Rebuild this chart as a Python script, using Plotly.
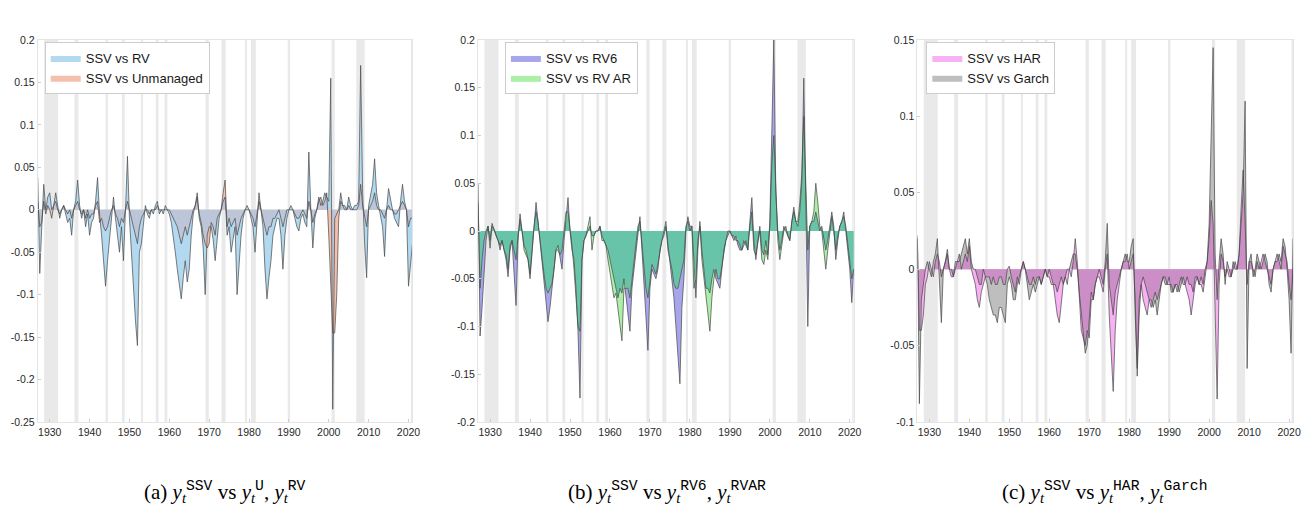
import numpy as np
import plotly.graph_objects as go

# ---------------- data (semi-annual grid, 1927.0 .. 2021.0) ----------------
YEARS = 1927 + 0.5 * np.arange(189)

A_RV = [0.038, -0.075, -0.02, 0.03, 0.0, 0.015, 0.02, 0.0, 0.005, 0.02, 0.005, -0.01, 0.0, 0.005, -0.005, -0.015, -0.01, -0.03, 0.0, 0.01,
        0.035, 0.005, -0.01, 0.0, -0.02, -0.005, -0.03, -0.015, -0.01, 0.01, 0.038, -0.005, -0.03, -0.06, -0.09, -0.06, -0.035, -0.005, 0.015, -0.01,
        -0.03, -0.05, -0.02, -0.06, 0.0, 0.063, -0.01, -0.05, -0.1, -0.13, -0.16, -0.05, -0.04, -0.02, 0.005, -0.005, -0.01, 0.0, -0.005, 0.005,
        0.01, -0.005, 0.0, -0.005, 0.005, 0.0, -0.005, -0.015, -0.03, -0.05, -0.07, -0.09, -0.105, -0.08, -0.06, -0.085, -0.07, -0.03, -0.005, 0.005,
        0.02, -0.01, -0.02, -0.045, -0.1, -0.03, -0.02, -0.02, -0.035, -0.06, -0.03, -0.01, 0.0, 0.01, 0.015, -0.03, -0.02, -0.05, -0.035, -0.02,
        -0.1, -0.06, -0.03, -0.01, 0.0, 0.005, 0.0, -0.01, -0.02, -0.05, -0.01, 0.02, 0.0, -0.02, -0.07, -0.105, -0.08, -0.06, -0.03, -0.02,
        -0.01, -0.01, -0.03, -0.07, -0.03, -0.01, 0.0, 0.005, 0.0, -0.01, -0.02, -0.025, -0.01, -0.005, -0.015, -0.02, 0.068, 0.0, -0.045, -0.01,
        0.0, 0.015, 0.005, 0.01, 0.02, 0.015, 0.01, 0.155, -0.235, -0.01, -0.005, 0.0, 0.02, 0.005, 0.005, 0.0, 0.015, 0.005, 0.0, 0.005,
        0.005, 0.01, 0.17, 0.02, -0.04, -0.08, 0.005, 0.02, 0.03, 0.06, 0.02, 0.005, -0.01, -0.02, -0.055, 0.0, 0.025, 0.01, 0.0, -0.01,
        -0.015, -0.02, 0.01, 0.03, 0.01, 0.0, -0.09, -0.06, -0.04]

A_U = [0.01, -0.02, -0.015, 0.01, -0.005, 0.005, 0.0, -0.01, 0.005, 0.01, 0.0, -0.005, 0.0, 0.005, 0.0, -0.005, 0.0, -0.01, 0.0, 0.005,
       0.01, 0.0, -0.005, 0.0, -0.01, 0.0, -0.01, -0.005, -0.005, 0.005, 0.01, -0.015, -0.01, -0.02, -0.025, -0.02, -0.01, 0.0, 0.005, -0.005,
       -0.01, -0.02, -0.01, -0.015, 0.0, 0.01, 0.0, -0.01, -0.02, -0.03, -0.04, -0.02, -0.01, -0.005, 0.0, 0.0, -0.005, 0.0, 0.0, 0.0,
       0.005, 0.0, 0.0, 0.0, 0.0, 0.0, 0.0, -0.005, -0.01, -0.015, -0.02, -0.03, -0.04, -0.03, -0.02, -0.03, -0.02, -0.01, 0.0, 0.005,
       0.015, -0.005, -0.015, -0.03, -0.04, -0.045, -0.04, -0.015, -0.02, -0.03, -0.01, -0.005, 0.0, 0.02, 0.035, -0.02, -0.01, -0.02, -0.015, -0.01,
       -0.03, -0.02, -0.01, -0.005, 0.0, 0.0, 0.0, -0.005, -0.01, -0.02, -0.005, 0.01, 0.0, -0.01, -0.02, -0.03, -0.02, -0.02, -0.01, -0.01,
       -0.005, 0.0, -0.01, -0.02, -0.01, 0.0, 0.0, 0.0, 0.0, -0.005, -0.01, -0.01, -0.005, 0.0, -0.005, -0.01, 0.01, 0.0, -0.015, -0.005,
       0.0, 0.01, 0.015, 0.005, 0.01, 0.02, -0.03, -0.1, -0.145, -0.145, -0.1, -0.01, 0.01, 0.005, 0.0, 0.0, 0.005, 0.0, 0.0, 0.0,
       0.0, 0.005, 0.03, 0.005, -0.01, -0.02, 0.0, 0.005, 0.01, 0.02, 0.005, 0.0, 0.0, -0.005, -0.01, 0.0, 0.005, 0.0, 0.0, -0.005,
       -0.005, 0.0, 0.005, 0.01, 0.005, 0.0, -0.02, -0.01, -0.01]

B_RV6 = [0.05, -0.11, -0.08, -0.04, -0.01, 0.005, -0.01, 0.008, 0.0, -0.005, -0.01, -0.02, -0.01, -0.02, -0.03, -0.048, -0.02, -0.01, -0.04, -0.078,
         -0.01, 0.018, 0.0, -0.015, -0.02, -0.03, -0.05, -0.02, 0.0, 0.03, 0.01, -0.01, -0.03, -0.05, -0.07, -0.095, -0.08, -0.06, -0.04, -0.02,
         -0.015, -0.03, -0.04, -0.01, 0.01, 0.035, 0.0, -0.02, -0.03, -0.06, -0.105, -0.175, -0.03, -0.01, -0.005, 0.0, 0.005, -0.005, -0.005, 0.0,
         0.0, 0.005, -0.005, -0.01, -0.015, -0.02, -0.03, -0.04, -0.05, -0.06, -0.07, -0.06, -0.065, -0.05, -0.07, -0.09, -0.105, -0.06, -0.04, -0.02,
         0.0, 0.015, -0.02, -0.05, -0.09, -0.125, -0.06, -0.04, -0.045, -0.05, -0.04, -0.02, -0.01, -0.005, 0.005, -0.015, -0.03, -0.05, -0.07, -0.1,
         -0.13, -0.16, -0.08, -0.05, 0.0, 0.015, 0.005, 0.005, -0.03, -0.07, -0.02, 0.01, -0.02, -0.04, -0.06, -0.06, -0.065, -0.05, -0.04, -0.05,
         -0.055, -0.06, -0.04, -0.02, -0.01, -0.005, 0.0, -0.005, -0.01, -0.005, -0.015, -0.02, -0.02, -0.01, -0.015, -0.02, 0.01, 0.035, -0.01, -0.03,
         -0.01, 0.005, -0.02, -0.025, -0.01, -0.025, 0.01, 0.12, 0.2, 0.04, 0.0, -0.02, -0.01, 0.005, 0.0, -0.005, -0.01, 0.01, 0.025, 0.01,
         0.005, 0.02, 0.05, 0.16, 0.04, -0.1, 0.005, 0.01, 0.01, 0.02, 0.01, 0.0, 0.005, -0.01, -0.02, -0.01, 0.005, 0.02, 0.005, -0.03,
         -0.01, 0.005, 0.01, 0.02, 0.0, -0.02, -0.04, -0.075, -0.04]

B_RVAR = [0.03, -0.06, -0.03, -0.01, 0.0, 0.005, -0.018, 0.005, 0.002, -0.005, -0.01, -0.015, -0.01, -0.02, -0.025, -0.04, -0.015, -0.01, -0.02, -0.03,
          -0.005, 0.012, 0.0, -0.02, -0.025, -0.03, -0.045, -0.015, 0.005, 0.02, 0.01, -0.01, -0.03, -0.045, -0.06, -0.065, -0.06, -0.055, -0.04, -0.02,
          -0.02, -0.025, -0.02, 0.0, 0.02, 0.02, 0.005, -0.015, -0.04, -0.07, -0.1, -0.105, -0.03, -0.01, -0.005, 0.005, 0.015, -0.02, -0.005, 0.0,
          0.0, 0.005, -0.01, -0.01, -0.015, -0.03, -0.045, -0.06, -0.07, -0.065, -0.08, -0.1, -0.115, -0.06, -0.06, -0.06, -0.07, -0.05, -0.03, -0.015,
          0.005, 0.01, -0.015, -0.04, -0.06, -0.07, -0.05, -0.035, -0.04, -0.045, -0.035, -0.02, -0.01, 0.0, 0.01, -0.02, -0.03, -0.04, -0.055, -0.06,
          -0.06, -0.05, -0.04, -0.03, 0.005, 0.01, 0.0, 0.005, -0.06, -0.05, -0.01, 0.005, -0.03, -0.05, -0.07, -0.09, -0.105, -0.07, -0.05, -0.04,
          -0.05, -0.05, -0.035, -0.02, -0.01, 0.0, 0.0, -0.005, -0.005, -0.01, -0.01, -0.015, -0.02, -0.015, -0.01, -0.02, 0.005, 0.02, -0.02, -0.025,
          -0.01, 0.0, -0.03, -0.035, -0.02, -0.03, 0.005, 0.07, 0.1, 0.04, -0.01, -0.03, -0.015, 0.0, 0.005, -0.005, -0.01, 0.01, 0.02, 0.01,
          0.01, 0.03, 0.06, 0.12, 0.05, -0.02, 0.005, 0.01, 0.02, 0.05, 0.03, 0.005, 0.0, -0.02, -0.04, -0.02, 0.0, 0.015, 0.0, -0.02,
          -0.005, 0.005, 0.01, 0.015, 0.005, -0.015, -0.03, -0.05, -0.04]

C_HAR = [0.02, -0.04, -0.04, -0.03, -0.01, -0.005, 0.005, 0.0, -0.005, 0.005, 0.01, 0.005, -0.005, 0.0, 0.005, 0.01, 0.0, -0.005, -0.005, 0.0,
         0.005, 0.01, 0.0, 0.005, 0.01, 0.005, 0.015, 0.0, -0.005, -0.01, -0.02, -0.025, -0.015, -0.01, -0.005, -0.005, -0.005, -0.01, -0.005, -0.01,
         -0.01, -0.005, -0.005, -0.01, -0.01, 0.0, 0.002, -0.005, -0.01, -0.015, -0.005, -0.01, 0.0, 0.005, 0.0, -0.005, -0.01, -0.01, -0.005, -0.01,
         -0.005, -0.005, -0.01, -0.005, 0.0, -0.005, -0.005, -0.01, -0.01, -0.02, -0.03, -0.035, -0.02, -0.01, -0.005, -0.01, 0.0, -0.005, 0.005, 0.02,
         0.005, -0.02, -0.04, -0.045, -0.05, -0.04, -0.045, -0.02, -0.02, -0.01, -0.005, -0.005, -0.01, -0.015, 0.0, 0.01, -0.03, -0.06, -0.08, -0.04,
         -0.02, -0.01, 0.0, 0.005, 0.005, 0.01, 0.0, 0.005, 0.01, -0.02, -0.07, -0.03, -0.01, -0.02, -0.025, -0.03, -0.02, -0.025, -0.02, -0.015,
         -0.02, -0.015, -0.01, -0.005, -0.005, -0.01, -0.01, -0.01, -0.015, -0.01, -0.015, -0.01, -0.005, -0.01, -0.01, -0.015, -0.02, -0.03, -0.02, -0.01,
         -0.005, -0.01, -0.01, -0.015, -0.005, 0.005, 0.02, 0.045, 0.03, -0.02, -0.085, -0.01, 0.01, 0.005, -0.005, 0.0, -0.005, -0.005, 0.0, 0.005,
         0.0, 0.01, 0.04, 0.065, 0.03, -0.01, 0.005, 0.005, 0.0, -0.005, 0.005, 0.0, 0.005, 0.01, 0.005, 0.0, -0.005, -0.01, 0.0, 0.005,
         0.01, 0.005, 0.0, 0.015, 0.01, 0.005, -0.01, -0.02, 0.0]

C_GARCH = [0.022, -0.088, -0.02, -0.01, 0.0, 0.005, 0.0, -0.005, 0.005, 0.01, 0.02, -0.01, -0.035, 0.0, 0.005, 0.013, 0.0, 0.0, -0.005, 0.005,
           0.005, 0.005, 0.01, 0.015, 0.02, 0.01, 0.02, 0.005, 0.0, 0.0, -0.005, -0.01, -0.01, 0.0, -0.005, -0.01, -0.02, -0.025, -0.03, -0.03,
           -0.035, -0.025, -0.025, -0.03, -0.035, -0.01, -0.005, -0.01, -0.02, -0.02, -0.01, -0.005, 0.0, 0.005, 0.0, -0.01, -0.02, -0.015, -0.01, -0.015,
           -0.01, -0.005, -0.01, -0.005, 0.0, -0.005, 0.0, -0.005, -0.01, -0.01, -0.015, -0.01, -0.005, -0.01, -0.005, 0.0, 0.0, 0.005, 0.01, 0.01,
           0.0, -0.015, -0.03, -0.045, -0.055, -0.05, -0.035, -0.015, -0.02, -0.01, -0.005, 0.0, -0.005, -0.01, 0.005, 0.03, -0.01, -0.02, -0.03, -0.015,
           -0.01, -0.005, 0.0, 0.005, 0.01, 0.005, 0.005, 0.015, 0.02, -0.03, -0.065, -0.02, -0.01, -0.005, -0.01, -0.015, -0.02, -0.02, -0.025, -0.02,
           -0.03, -0.02, -0.01, -0.005, -0.01, -0.01, -0.005, -0.015, -0.015, -0.01, -0.01, -0.015, -0.01, -0.005, -0.01, -0.005, -0.01, -0.01, -0.015, -0.005,
           -0.005, -0.01, -0.005, -0.01, 0.0, 0.005, 0.03, 0.08, 0.145, 0.01, -0.02, 0.005, 0.02, 0.01, -0.01, 0.005, 0.0, -0.005, 0.005, 0.0,
           0.0, 0.01, 0.03, 0.05, 0.11, -0.065, 0.005, 0.01, -0.005, 0.0, 0.01, 0.005, 0.0, 0.005, 0.01, 0.005, -0.01, -0.015, 0.0, 0.005,
           0.005, 0.01, 0.005, 0.02, 0.015, 0.0, -0.02, -0.055, 0.02]

# recession bands as drawn in the reference
REC_START = [1928.6, 1936.2, 1944.0, 1948.1, 1952.9, 1956.6, 1958.8, 1969.1, 1973.1, 1979.0, 1980.5, 1989.7, 2000.7, 2006.9, 2020.6]
REC_END = [1932.1, 1937.2, 1944.6, 1948.8, 1953.4, 1957.3, 1959.5, 1969.9, 1974.1, 1979.5, 1981.7, 1990.3, 2001.5, 2009.0, 2021.0]

X_TICKS = [1930, 1940, 1950, 1960, 1970, 1980, 1990, 2000, 2010, 2020]
Y_TICKS_A = [0.2, 0.15, 0.1, 0.05, 0, -0.05, -0.1, -0.15, -0.2, -0.25]
Y_TICKS_B = [0.2, 0.15, 0.1, 0.05, 0, -0.05, -0.1, -0.15, -0.2]
Y_TICKS_C = [0.15, 0.1, 0.05, 0, -0.05, -0.1]

LEG_A = ["SSV vs RV", "SSV vs Unmanaged"]
LEG_B = ["SSV vs RV6", "SSV vs RV AR"]
LEG_C = ["SSV vs HAR", "SSV vs Garch"]

MONO = "<span style=\"font-family:'Liberation Mono', 'DejaVu Sans Mono', monospace\">%s</span>"
def cap(letter, s1, s2):
    return ("(%s) <i>y</i><sub><i>t</i></sub><sup>%s</sup> vs <i>y</i><sub><i>t</i></sub><sup>%s</sup>, "
            "<i>y</i><sub><i>t</i></sub><sup>%s</sup>") % (letter, MONO % "SSV", MONO % s1, MONO % s2)

CAPTIONS = [cap("a", "U", "RV"), cap("b", "RV6", "RVAR"), cap("c", "HAR", "Garch")]

# ---------------- figure ----------------
W, H = 1314, 521
M_T, M_B = 40, 99
fig = go.Figure()

panels = [
    dict(a=A_RV, b=A_U, names=LEG_A, ca="rgb(178,217,240)", cb="rgb(244,192,172)", cov="rgb(188,198,216)",
         yr=[-0.25, 0.2], yt=Y_TICKS_A, dom=[38, 415], leg=45),
    dict(a=B_RV6, b=B_RVAR, names=LEG_B, ca="rgb(168,166,234)", cb="rgb(172,240,168)", cov="rgb(104,196,168)",
         yr=[-0.2, 0.2], yt=Y_TICKS_B, dom=[481, 859], leg=508),
    dict(a=C_HAR, b=C_GARCH, names=LEG_C, ca="rgb(246,178,243)", cb="rgb(190,190,190)", cov="rgb(204,142,198)",
         yr=[-0.1, 0.15], yt=Y_TICKS_C, dom=[923, 1301], leg=932),
]

LINE_COL = "rgb(72,72,72)"
layout = dict(width=W, height=H, margin=dict(l=0, r=0, t=M_T, b=M_B),
              paper_bgcolor="white", plot_bgcolor="white", shapes=[], annotations=[])

def ytxt(v):
    return "0" if v == 0 else ("%g" % v)

for i, p in enumerate(panels):
    sfx = "" if i == 0 else str(i + 1)
    xa, ya = "x" + sfx, "y" + sfx
    legname = "legend" + sfx
    a = np.array(p["a"])
    b = np.array(p["b"])
    ov = np.where(a * b > 0, np.sign(a) * np.minimum(np.abs(a), np.abs(b)), 0.0)

    fig.add_trace(go.Scatter(x=YEARS, y=a, mode="lines", fill="tozeroy", fillcolor=p["ca"],
                             line=dict(width=0, color=p["ca"]), name=p["names"][0],
                             legend=legname, xaxis=xa, yaxis=ya, hoverinfo="skip"))
    fig.add_trace(go.Scatter(x=YEARS, y=b, mode="lines", fill="tozeroy", fillcolor=p["cb"],
                             line=dict(width=0, color=p["cb"]), name=p["names"][1],
                             legend=legname, xaxis=xa, yaxis=ya, hoverinfo="skip"))
    fig.add_trace(go.Scatter(x=YEARS, y=ov, mode="lines", fill="tozeroy", fillcolor=p["cov"],
                             line=dict(width=0, color=p["cov"]), showlegend=False,
                             xaxis=xa, yaxis=ya, hoverinfo="skip"))
    for s in (a, b):
        fig.add_trace(go.Scatter(x=YEARS, y=s, mode="lines", line=dict(width=0.7, color=LINE_COL),
                                 showlegend=False, xaxis=xa, yaxis=ya, hoverinfo="skip"))

    d0, d1 = p["dom"]
    axcommon = dict(showgrid=False, zeroline=False, showline=True, mirror=True,
                    linecolor="rgb(228,228,228)", linewidth=1, ticks="inside", ticklen=3,
                    tickcolor="rgb(205,205,205)",
                    tickfont=dict(family="Liberation Sans, Arial, sans-serif", size=10.5, color="rgb(40,40,40)"))
    layout["xaxis" + sfx] = dict(axcommon, domain=[d0 / W, d1 / W], range=[1927, 2021], anchor=ya,
                                 tickmode="array", tickvals=X_TICKS, ticktext=[str(t) for t in X_TICKS])
    layout["yaxis" + sfx] = dict(axcommon, domain=[0, 1], range=p["yr"], anchor=xa,
                                 tickmode="array", tickvals=p["yt"], ticktext=[ytxt(v) for v in p["yt"]])
    for s0, s1 in zip(REC_START, REC_END):
        layout["shapes"].append(dict(type="rect", xref=xa, yref=ya + " domain", x0=s0, x1=s1, y0=0, y1=1,
                                     fillcolor="rgb(233,233,233)", line=dict(width=0), layer="below"))
    layout[legname] = dict(x=p["leg"] / W, y=(H - M_B - 42) / (H - M_T - M_B), xanchor="left", yanchor="top",
                           bgcolor="white", bordercolor="rgb(205,205,205)", borderwidth=1,
                           font=dict(family="Liberation Sans, Arial, sans-serif", size=13, color="rgb(25,25,25)"),
                           itemwidth=30, tracegroupgap=0, itemclick=False)

CAP_CX = [226, 671, 1112]
for cx, txt in zip(CAP_CX, CAPTIONS):
    layout["annotations"].append(dict(text=txt, xref="paper", yref="paper", x=cx / W,
                                      y=(H - M_B - 492) / (H - M_T - M_B), xanchor="center", yanchor="middle",
                                      showarrow=False,
                                      font=dict(family="Liberation Serif, DejaVu Serif, serif", size=21, color="black")))

fig.update_layout(**layout)
fig.write_html("out.html")
